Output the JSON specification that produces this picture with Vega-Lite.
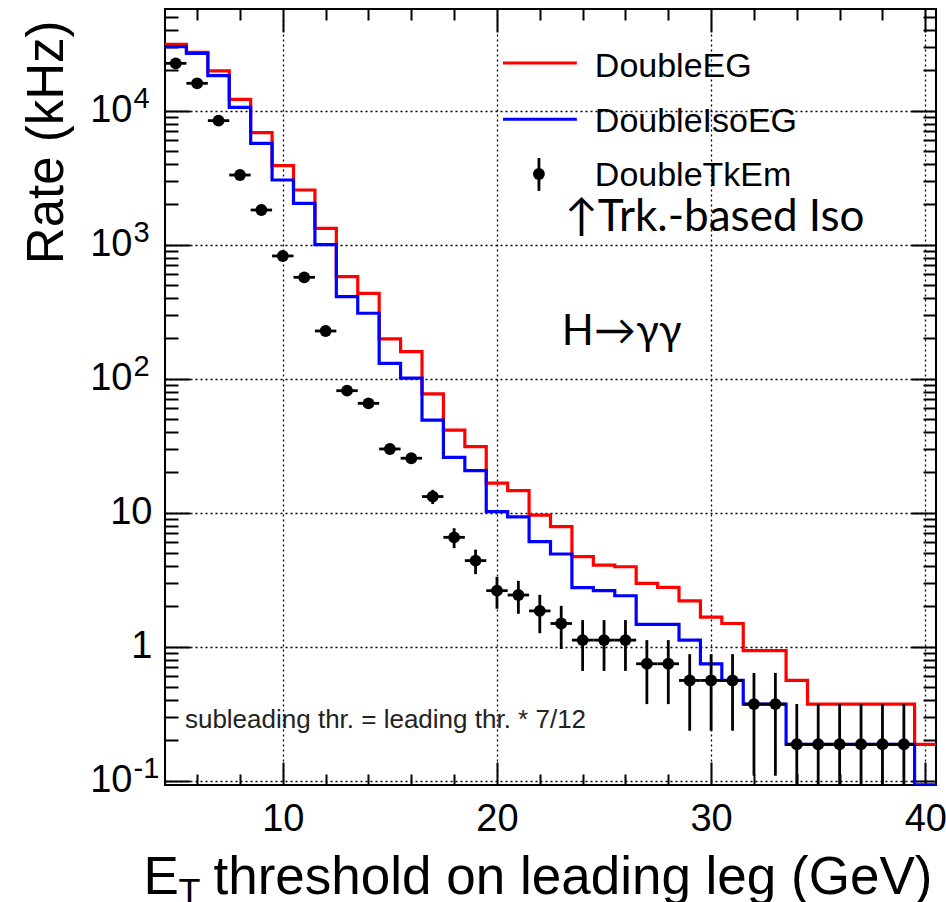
{
  "$schema": "https://vega.github.io/schema/vega-lite/v6.json",
  "autosize": {"type": "none"},
  "padding": {"left": 165, "top": 9, "right": 10, "bottom": 117},
  "width": 771,
  "height": 776,
  "background": "white",
  "config": {
    "view": {"stroke": "#000", "strokeWidth": 2},
    "axis": {
      "domain": false,
      "labelFont": "Liberation Sans",
      "titleFont": "Liberation Sans",
      "labelColor": "#000",
      "titleColor": "#000",
      "titleFontWeight": "normal",
      "tickColor": "#000",
      "tickWidth": 2,
      "labelFlush": false,
      "labelOverlap": false,
      "gridColor": "#000",
      "gridDash": [2, 3],
      "gridWidth": 1.3,
      "gridOpacity": 1
    }
  },
  "datasets": {
    "edges": [
      {"edge": 4.5, "DoubleEG": 31270, "DoubleIsoEG": 30050},
      {"edge": 5.5, "DoubleEG": 27260, "DoubleIsoEG": 26800},
      {"edge": 6.5, "DoubleEG": 19790, "DoubleIsoEG": 18250},
      {"edge": 7.5, "DoubleEG": 12160, "DoubleIsoEG": 10600},
      {"edge": 8.5, "DoubleEG": 6860, "DoubleIsoEG": 5710},
      {"edge": 9.5, "DoubleEG": 3890, "DoubleIsoEG": 3040},
      {"edge": 10.5, "DoubleEG": 2560, "DoubleIsoEG": 2037},
      {"edge": 11.5, "DoubleEG": 1324, "DoubleIsoEG": 1000},
      {"edge": 12.5, "DoubleEG": 577, "DoubleIsoEG": 410},
      {"edge": 13.5, "DoubleEG": 434, "DoubleIsoEG": 308},
      {"edge": 14.5, "DoubleEG": 198, "DoubleIsoEG": 130},
      {"edge": 15.5, "DoubleEG": 159, "DoubleIsoEG": 101},
      {"edge": 16.5, "DoubleEG": 77, "DoubleIsoEG": 49},
      {"edge": 17.5, "DoubleEG": 41.4, "DoubleIsoEG": 25.9},
      {"edge": 18.5, "DoubleEG": 31.1, "DoubleIsoEG": 20.6},
      {"edge": 19.5, "DoubleEG": 16.6, "DoubleIsoEG": 10.2},
      {"edge": 20.5, "DoubleEG": 14.6, "DoubleIsoEG": 9.3},
      {"edge": 21.5, "DoubleEG": 9.6, "DoubleIsoEG": 6.08},
      {"edge": 22.5, "DoubleEG": 7.87, "DoubleIsoEG": 4.92},
      {"edge": 23.5, "DoubleEG": 4.7, "DoubleIsoEG": 2.76},
      {"edge": 24.5, "DoubleEG": 4.06, "DoubleIsoEG": 2.62},
      {"edge": 25.5, "DoubleEG": 3.95, "DoubleIsoEG": 2.4},
      {"edge": 26.5, "DoubleEG": 2.97, "DoubleIsoEG": 1.47},
      {"edge": 27.5, "DoubleEG": 2.77, "DoubleIsoEG": 1.47},
      {"edge": 28.5, "DoubleEG": 2.2, "DoubleIsoEG": 1.12},
      {"edge": 29.5, "DoubleEG": 1.66, "DoubleIsoEG": 0.745},
      {"edge": 30.5, "DoubleEG": 1.49, "DoubleIsoEG": 0.56},
      {"edge": 31.5, "DoubleEG": 0.935, "DoubleIsoEG": 0.373},
      {"edge": 32.5, "DoubleEG": 0.935, "DoubleIsoEG": 0.373},
      {"edge": 33.5, "DoubleEG": 0.56, "DoubleIsoEG": 0.187},
      {"edge": 34.5, "DoubleEG": 0.373, "DoubleIsoEG": 0.187},
      {"edge": 35.5, "DoubleEG": 0.373, "DoubleIsoEG": 0.187},
      {"edge": 36.5, "DoubleEG": 0.373, "DoubleIsoEG": 0.187},
      {"edge": 37.5, "DoubleEG": 0.373, "DoubleIsoEG": 0.187},
      {"edge": 38.5, "DoubleEG": 0.373, "DoubleIsoEG": 0.187},
      {"edge": 39.5, "DoubleEG": 0.187, "DoubleIsoEG": 0.093},
      {"edge": 40.5, "DoubleEG": 0.187, "DoubleIsoEG": 0.093}
    ],
    "tkem": [
      {"et": 5, "lo": 4.5, "hi": 5.5, "rate": 22570, "down": 22505, "up": 22635},
      {"et": 6, "lo": 5.5, "hi": 6.5, "rate": 16010, "down": 15955, "up": 16065},
      {"et": 7, "lo": 6.5, "hi": 7.5, "rate": 8430, "down": 8390, "up": 8470},
      {"et": 8, "lo": 7.5, "hi": 8.5, "rate": 3311, "down": 3286, "up": 3336},
      {"et": 9, "lo": 8.5, "hi": 9.5, "rate": 1815, "down": 1797, "up": 1833},
      {"et": 10, "lo": 9.5, "hi": 10.5, "rate": 824, "down": 812, "up": 836},
      {"et": 11, "lo": 10.5, "hi": 11.5, "rate": 571, "down": 561, "up": 581},
      {"et": 12, "lo": 11.5, "hi": 12.5, "rate": 227, "down": 220.5, "up": 233.5},
      {"et": 13, "lo": 12.5, "hi": 13.5, "rate": 81.4, "down": 77.5, "up": 85.3},
      {"et": 14, "lo": 13.5, "hi": 14.5, "rate": 65.5, "down": 62, "up": 69},
      {"et": 15, "lo": 14.5, "hi": 15.5, "rate": 29.9, "down": 27.5, "up": 32.3},
      {"et": 16, "lo": 15.5, "hi": 16.5, "rate": 25.5, "down": 23.3, "up": 27.7},
      {"et": 17, "lo": 16.5, "hi": 17.5, "rate": 13.2, "down": 11.6, "up": 14.8},
      {"et": 18, "lo": 17.5, "hi": 18.5, "rate": 6.55, "down": 5.44, "up": 7.66},
      {"et": 19, "lo": 18.5, "hi": 19.5, "rate": 4.39, "down": 3.48, "up": 5.3},
      {"et": 20, "lo": 19.5, "hi": 20.5, "rate": 2.62, "down": 1.92, "up": 3.32},
      {"et": 21, "lo": 20.5, "hi": 21.5, "rate": 2.43, "down": 1.76, "up": 3.1},
      {"et": 22, "lo": 21.5, "hi": 22.5, "rate": 1.85, "down": 1.26, "up": 2.44},
      {"et": 23, "lo": 22.5, "hi": 23.5, "rate": 1.49, "down": 0.962, "up": 2.018},
      {"et": 24, "lo": 23.5, "hi": 24.5, "rate": 1.12, "down": 0.66, "up": 1.58},
      {"et": 25, "lo": 24.5, "hi": 25.5, "rate": 1.12, "down": 0.66, "up": 1.58},
      {"et": 26, "lo": 25.5, "hi": 26.5, "rate": 1.12, "down": 0.66, "up": 1.58},
      {"et": 27, "lo": 26.5, "hi": 27.5, "rate": 0.746, "down": 0.373, "up": 1.12},
      {"et": 28, "lo": 27.5, "hi": 28.5, "rate": 0.746, "down": 0.373, "up": 1.12},
      {"et": 29, "lo": 28.5, "hi": 29.5, "rate": 0.56, "down": 0.236, "up": 0.88},
      {"et": 30, "lo": 29.5, "hi": 30.5, "rate": 0.56, "down": 0.236, "up": 0.88},
      {"et": 31, "lo": 30.5, "hi": 31.5, "rate": 0.56, "down": 0.236, "up": 0.88},
      {"et": 32, "lo": 31.5, "hi": 32.5, "rate": 0.373, "down": 0.109, "up": 0.637},
      {"et": 33, "lo": 32.5, "hi": 33.5, "rate": 0.373, "down": 0.109, "up": 0.637},
      {"et": 34, "lo": 33.5, "hi": 34.5, "rate": 0.187, "down": 0.0001, "up": 0.374},
      {"et": 35, "lo": 34.5, "hi": 35.5, "rate": 0.187, "down": 0.0001, "up": 0.374},
      {"et": 36, "lo": 35.5, "hi": 36.5, "rate": 0.187, "down": 0.0001, "up": 0.374},
      {"et": 37, "lo": 36.5, "hi": 37.5, "rate": 0.187, "down": 0.0001, "up": 0.374},
      {"et": 38, "lo": 37.5, "hi": 38.5, "rate": 0.187, "down": 0.0001, "up": 0.374},
      {"et": 39, "lo": 38.5, "hi": 39.5, "rate": 0.187, "down": 0.0001, "up": 0.374}
    ]
  },
  "resolve": {"axis": {"x": "independent", "y": "independent"}},
  "layer": [
    {
      "data": {"name": "edges"},
      "mark": {"type": "line", "interpolate": "step-after", "color": "#ff0000", "strokeWidth": 3.2, "clip": true},
      "encoding": {
        "x": {
          "field": "edge", "type": "quantitative",
          "scale": {"domain": [4.5, 40.5], "nice": false, "zero": false},
          "axis": {
            "orient": "bottom", "values": [10, 20, 30, 40], "ticks": false, "grid": true,
            "labelFontSize": 38, "labelPadding": 15,
            "title": "threshold on leading leg (GeV)", "titleFontSize": 53,
            "titleX": 48, "titleY": 108, "titleAlign": "left", "titleBaseline": "alphabetic"
          }
        },
        "y": {
          "field": "DoubleEG", "type": "quantitative",
          "scale": {"type": "log", "domain": [0.0929, 57400], "nice": false, "zero": false},
          "axis": {
            "orient": "left", "values": [0.1, 1, 10, 100, 1000, 10000], "ticks": false, "grid": true,
            "labelFontSize": 38,
            "labelPadding": {"condition": {"test": "datum.value > 0.5 && datum.value < 50", "value": 13}, "value": 33},
            "labelExpr": "datum.value > 0.5 && datum.value < 5 ? '1' : '10'",
            "title": "Rate (kHz)", "titleFontSize": 51, "titleAngle": 270,
            "titleX": -103, "titleY": 11, "titleAlign": "right", "titleBaseline": "alphabetic"
          }
        }
      }
    },
    {
      "data": {"name": "edges"},
      "mark": {"type": "line", "interpolate": "step-after", "color": "#0000ff", "strokeWidth": 3.2, "clip": true},
      "encoding": {
        "x": {
          "field": "edge", "type": "quantitative",
          "axis": {
            "orient": "bottom", "values": [10, 20, 30, 40], "labels": false, "grid": false,
            "offset": -23, "tickSize": 23,
            "title": "E", "titleFontSize": 53,
            "titleX": -22, "titleY": 131, "titleAlign": "left", "titleBaseline": "alphabetic"
          }
        },
        "y": {
          "field": "DoubleIsoEG", "type": "quantitative",
          "axis": {"orient": "left", "values": [0.1, 1, 10, 100, 1000, 10000], "labels": false, "grid": false, "offset": -25, "tickSize": 25, "title": null}
        }
      }
    },
    {
      "data": {"name": "tkem"},
      "mark": {"type": "rule", "color": "#000", "strokeWidth": 2.8, "clip": true},
      "encoding": {
        "x": {
          "field": "et", "type": "quantitative",
          "axis": {
            "orient": "bottom", "values": [6, 8, 12, 14, 16, 18, 22, 24, 26, 28, 32, 34, 36, 38],
            "labels": false, "grid": false, "offset": -11, "tickSize": 11,
            "title": "T", "titleFontSize": 36,
            "titleX": 13, "titleY": 130, "titleAlign": "left", "titleBaseline": "alphabetic"
          }
        },
        "y": {
          "field": "down", "type": "quantitative",
          "axis": {
            "orient": "left",
            "values": [0.2, 0.3, 0.4, 0.5, 0.6, 0.7, 0.8, 0.9, 2, 3, 4, 5, 6, 7, 8, 9, 20, 30, 40, 50, 60, 70, 80, 90, 200, 300, 400, 500, 600, 700, 800, 900, 2000, 3000, 4000, 5000, 6000, 7000, 8000, 9000, 20000, 30000, 40000, 50000],
            "labels": false, "grid": false, "offset": -13, "tickSize": 13, "title": null
          }
        },
        "y2": {"field": "up"}
      }
    },
    {
      "data": {"name": "tkem"},
      "mark": {"type": "rule", "color": "#000", "strokeWidth": 2.8, "clip": true},
      "encoding": {
        "x": {
          "field": "lo", "type": "quantitative",
          "axis": {"orient": "top", "values": [10, 20, 30, 40], "labels": false, "grid": false, "offset": -23, "tickSize": 23, "title": null}
        },
        "x2": {"field": "hi"},
        "y": {
          "field": "rate", "type": "quantitative",
          "axis": {"orient": "right", "values": [0.1, 1, 10, 100, 1000, 10000], "labels": false, "grid": false, "offset": -25, "tickSize": 25, "title": null}
        }
      }
    },
    {
      "data": {"name": "tkem"},
      "mark": {"type": "point", "shape": "circle", "filled": true, "color": "#000", "opacity": 1, "size": 140, "clip": true},
      "encoding": {
        "x": {
          "field": "et", "type": "quantitative",
          "axis": {"orient": "top", "values": [6, 8, 12, 14, 16, 18, 22, 24, 26, 28, 32, 34, 36, 38], "labels": false, "grid": false, "offset": -11, "tickSize": 11, "title": null}
        },
        "y": {
          "field": "rate", "type": "quantitative",
          "axis": {
            "orient": "right",
            "values": [0.2, 0.3, 0.4, 0.5, 0.6, 0.7, 0.8, 0.9, 2, 3, 4, 5, 6, 7, 8, 9, 20, 30, 40, 50, 60, 70, 80, 90, 200, 300, 400, 500, 600, 700, 800, 900, 2000, 3000, 4000, 5000, 6000, 7000, 8000, 9000, 20000, 30000, 40000, 50000],
            "labels": false, "grid": false, "offset": -13, "tickSize": 13, "title": null
          }
        }
      }
    },
    {
      "data": {"values": [{"entry": "DoubleEG"}]},
      "mark": {"type": "rule", "color": "#ff0000", "strokeWidth": 3.2},
      "encoding": {
        "x": {"datum": 20.28, "axis": null},
        "x2": {"datum": 23.73},
        "y": {
          "datum": 22700,
          "axis": {
            "orient": "left", "values": [0.1, 100, 1000, 10000], "ticks": false, "grid": false,
            "labelFontSize": 29, "labelAlign": "left", "labelPadding": 32, "labelOffset": -12,
            "labelExpr": "datum.value < 0.5 ? '-1' : datum.value < 500 ? '2' : datum.value < 5000 ? '3' : '4'",
            "title": null
          }
        }
      }
    },
    {
      "data": {"values": [{"entry": "DoubleIsoEG"}]},
      "mark": {"type": "rule", "color": "#0000ff", "strokeWidth": 3.2},
      "encoding": {
        "x": {"datum": 20.28, "axis": null},
        "x2": {"datum": 23.73},
        "y": {"datum": 8630, "axis": null}
      }
    },
    {
      "data": {"values": [{"entry": "DoubleTkEm"}]},
      "mark": {"type": "rule", "color": "#000", "strokeWidth": 2.8},
      "encoding": {
        "x": {"datum": 21.96, "axis": null},
        "y": {"datum": 4440, "axis": null},
        "y2": {"datum": 2520}
      }
    },
    {
      "data": {"values": [{"entry": "DoubleTkEm"}]},
      "mark": {"type": "point", "shape": "circle", "filled": true, "color": "#000", "opacity": 1, "size": 140},
      "encoding": {
        "x": {"datum": 21.96, "axis": null},
        "y": {"datum": 3370, "axis": null}
      }
    },
    {
      "data": {"values": [{"label": "DoubleEG"}]},
      "mark": {"type": "text", "font": "Liberation Sans", "fontSize": 34, "align": "left", "baseline": "alphabetic", "color": "#000"},
      "encoding": {
        "x": {"datum": 24.57, "axis": null},
        "y": {"datum": 17850, "axis": null},
        "text": {"field": "label"}
      }
    },
    {
      "data": {"values": [{"label": "DoubleIsoEG"}]},
      "mark": {"type": "text", "font": "Liberation Sans", "fontSize": 34, "align": "left", "baseline": "alphabetic", "color": "#000"},
      "encoding": {
        "x": {"datum": 24.57, "axis": null},
        "y": {"datum": 6970, "axis": null},
        "text": {"field": "label"}
      }
    },
    {
      "data": {"values": [{"label": "DoubleTkEm"}]},
      "mark": {"type": "text", "font": "Liberation Sans", "fontSize": 34, "align": "left", "baseline": "alphabetic", "color": "#000"},
      "encoding": {
        "x": {"datum": 24.57, "axis": null},
        "y": {"datum": 2740, "axis": null},
        "text": {"field": "label"}
      }
    },
    {
      "data": {"values": [{"label": "↑Trk.-based Iso"}]},
      "mark": {"type": "text", "font": "Lato, DejaVu Sans", "fontSize": 44, "align": "left", "baseline": "alphabetic", "color": "#000"},
      "encoding": {
        "x": {"datum": 23.17, "axis": null},
        "y": {"datum": 1260, "axis": null},
        "text": {"field": "label"}
      }
    },
    {
      "data": {"values": [{"label": "H→γγ"}]},
      "mark": {"type": "text", "font": "Lato, DejaVu Sans", "fontSize": 42, "align": "left", "baseline": "alphabetic", "color": "#000"},
      "encoding": {
        "x": {"datum": 23.03, "axis": null},
        "y": {"datum": 178, "axis": null},
        "text": {"field": "label"}
      }
    },
    {
      "data": {"values": [{"label": "subleading thr. = leading thr. * 7/12"}]},
      "mark": {"type": "text", "font": "Liberation Sans", "fontSize": 26, "align": "left", "baseline": "alphabetic", "color": "#222"},
      "encoding": {
        "x": {"datum": 5.43, "axis": null},
        "y": {"datum": 0.2486, "axis": null},
        "text": {"field": "label"}
      }
    }
  ]
}
